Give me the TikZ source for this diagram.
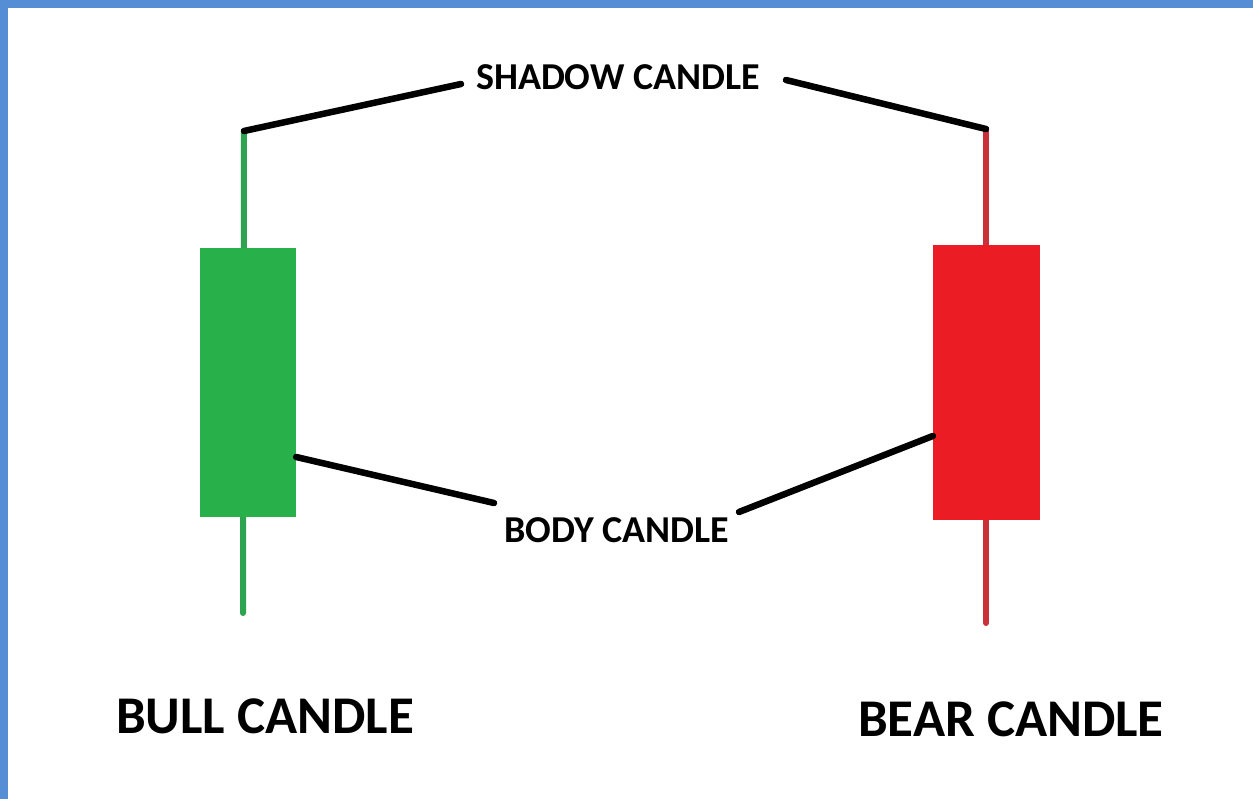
\documentclass[tikz,border=0pt]{standalone}
\usepackage{fontspec}
\setmainfont{Carlito}
\definecolor{frameblue}{HTML}{558ED5}
\definecolor{bullbody}{HTML}{28B04B}
\definecolor{bullwick}{HTML}{2EA350}
\definecolor{bearbody}{HTML}{EC1C24}
\definecolor{bearwick}{HTML}{C9303A}
\tikzset{
  wick/.style={line width=6pt, line cap=round},
  pointer/.style={line width=6.5pt, black, line cap=round},
  label/.style={font=\bfseries\fontsize{38}{38}\selectfont, inner sep=0pt},
  title/.style={font=\bfseries\fontsize{53}{53}\selectfont, inner sep=0pt},
}
\begin{document}
\begin{tikzpicture}[x=1pt, y=-1pt]
  % page with blue frame on top and left
  \fill[frameblue] (0,0) rectangle (1253,799);
  \fill[white] (8,8) rectangle (1253,799);
  \useasboundingbox (0,0) rectangle (1253,799);

  % bull candle
  \coordinate (bulltop) at (244,131);
  \coordinate (bullbot) at (243,613);
  \draw[wick, bullwick] (bulltop) -- (bullbot);
  \node[fill=bullbody, minimum width=96pt, minimum height=269pt, inner sep=0pt] (bullbody) at (248,382.5) {};

  % bear candle
  \coordinate (beartop) at (986,129);
  \coordinate (bearbot) at (986,623);
  \draw[wick, bearwick] (beartop) -- (bearbot);
  \node[fill=bearbody, minimum width=107pt, minimum height=275pt, inner sep=0pt] (bearbody) at (986.5,382.5) {};

  % labels
  \node[label] (shadow) at (618,77) {SHADOW CANDLE};
  \node[label] (body) at (617,530) {BODY CANDLE};
  \node[title] (bull) at (265,716) {BULL CANDLE};
  \node[title] (bear) at (1011,719) {BEAR CANDLE};

  % free ends of the pointer lines, next to the labels
  \coordinate (shadowL) at (461,84);
  \coordinate (shadowR) at (786,80);
  \coordinate (bodyL) at (494,503);
  \coordinate (bodyR) at (739,512);

  % pointer lines
  \draw[pointer] (bulltop) -- (shadowL);
  \draw[pointer] (beartop) -- (shadowR);
  \draw[pointer] (bullbody.east |- 0,457) -- (bodyL);
  \draw[pointer] (bearbody.west |- 0,436) -- (bodyR);
\end{tikzpicture}
\end{document}
